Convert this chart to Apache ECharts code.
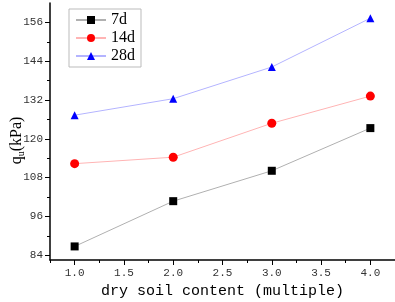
<html>
<head>
<meta charset="UTF-8">
<script src="https://cdn.jsdelivr.net/npm/echarts@6/dist/echarts.min.js"></script>
<title>qu vs dry soil content</title>
</head>
<body style="margin:0">
	<div id="main" style="width: 395px; height: 302px;"></div>
</body>
<script type="text/javascript">
	// data
	var xValues = [1.0, 2.0, 3.0, 4.0];
	var q7 = [86.7, 100.7, 110.1, 123.3];
	var q14 = [112.3, 114.3, 124.8, 133.2];
	var q28 = [127.3, 132.4, 142.2, 157.3];
	var xTicks = [1.0, 1.5, 2.0, 2.5, 3.0, 3.5, 4.0];
	var xMinor = [0.75, 1.25, 1.75, 2.25, 2.75, 3.25, 3.75, 4.25];
	var yTicks = [84, 96, 108, 120, 132, 144, 156];
	var yMinor = [90, 102, 114, 126, 138, 150];

	function pairs(ys) {
		var out = [];
		for (var i = 0; i < xValues.length; i++) {
			out.push([xValues[i], ys[i]]);
		}
		return out;
	}

	var mono = 'Liberation Mono';
	var serif = 'Liberation Serif';

	var myChart = echarts.init(document.getElementById('main'));
	var option = {
		animation : false,
		grid : { left : 50, right : 0, top : 3, bottom : 42, outerBoundsMode : 'none', containLabel : false },
		legend : {
			orient : 'vertical',
			left : 69,
			top : 9,
			padding : [ 3, 6, 3, 6 ],
			itemGap : 2,
			itemWidth : 30,
			itemHeight : 10,
			borderColor : '#bbbbbb',
			borderWidth : 1,
			textStyle : { fontFamily : serif, fontSize : 16, color : '#000' },
			data : [ '7d', '14d', '28d' ]
		},
		xAxis : [ {
			type : 'value',
			min : 0.75,
			max : 4.25,
			name : 'dry soil content (multiple)',
			nameLocation : 'middle',
			nameMoveOverlap : false,
			nameGap : 24,
			nameTextStyle : { fontFamily : mono, fontSize : 15, color : '#000' },
			axisLine : { lineStyle : { color : '#000', width : 1.5 } },
			axisTick : { customValues : xTicks, length : 5, lineStyle : { color : '#000' } },
			axisLabel : {
				customValues : xTicks,
				margin : 8,
				fontFamily : mono,
				fontSize : 11,
				color : '#333',
				formatter : function(v) { return v.toFixed(1); }
			},
			splitLine : { show : false }
		}, {
			type : 'value',
			position : 'bottom',
			min : 0.75,
			max : 4.25,
			axisLine : { show : false },
			axisTick : { customValues : xMinor, length : 3, lineStyle : { color : '#000' } },
			axisLabel : { show : false },
			splitLine : { show : false }
		} ],
		yAxis : [ {
			type : 'value',
			min : 82.5,
			max : 162,
			name : '{a|q}{b|u}{a|(kPa)}',
			nameLocation : 'middle',
			nameMoveOverlap : false,
			nameGap : 24,
			nameTextStyle : {
				padding : [ 0, 18, 0, 0 ],
				rich : {
					a : { fontFamily : serif, fontSize : 16, color : '#000' },
					b : { fontFamily : serif, fontSize : 10, color : '#000', padding : [ 9, 0, 0, 0 ] }
				}
			},
			axisLine : { show : true, lineStyle : { color : '#000', width : 1.5 } },
			axisTick : { show : true, customValues : yTicks, length : 5, lineStyle : { color : '#000' } },
			axisLabel : {
				customValues : yTicks,
				margin : 7,
				fontFamily : mono,
				fontSize : 11,
				color : '#333'
			},
			splitLine : { show : false }
		}, {
			type : 'value',
			position : 'left',
			min : 82.5,
			max : 162,
			axisLine : { show : false },
			axisTick : { show : true, customValues : yMinor, length : 3, lineStyle : { color : '#000' } },
			axisLabel : { show : false },
			splitLine : { show : false }
		} ],
		series : [ {
			name : '7d',
			type : 'line',
			data : pairs(q7),
			symbol : 'rect',
			symbolSize : 8,
			itemStyle : { color : '#000' },
			lineStyle : { color : '#b0b0b0', width : 1 }
		}, {
			name : '14d',
			type : 'line',
			data : pairs(q14),
			symbol : 'circle',
			symbolSize : 9,
			itemStyle : { color : '#ff0000' },
			lineStyle : { color : '#ffb4b4', width : 1 }
		}, {
			name : '28d',
			type : 'line',
			data : pairs(q28),
			symbol : 'triangle',
			symbolSize : 8,
			itemStyle : { color : '#0000ff' },
			lineStyle : { color : '#b4b4ff', width : 1 }
		} ]
	};
	myChart.setOption(option);
</script>
</html>
